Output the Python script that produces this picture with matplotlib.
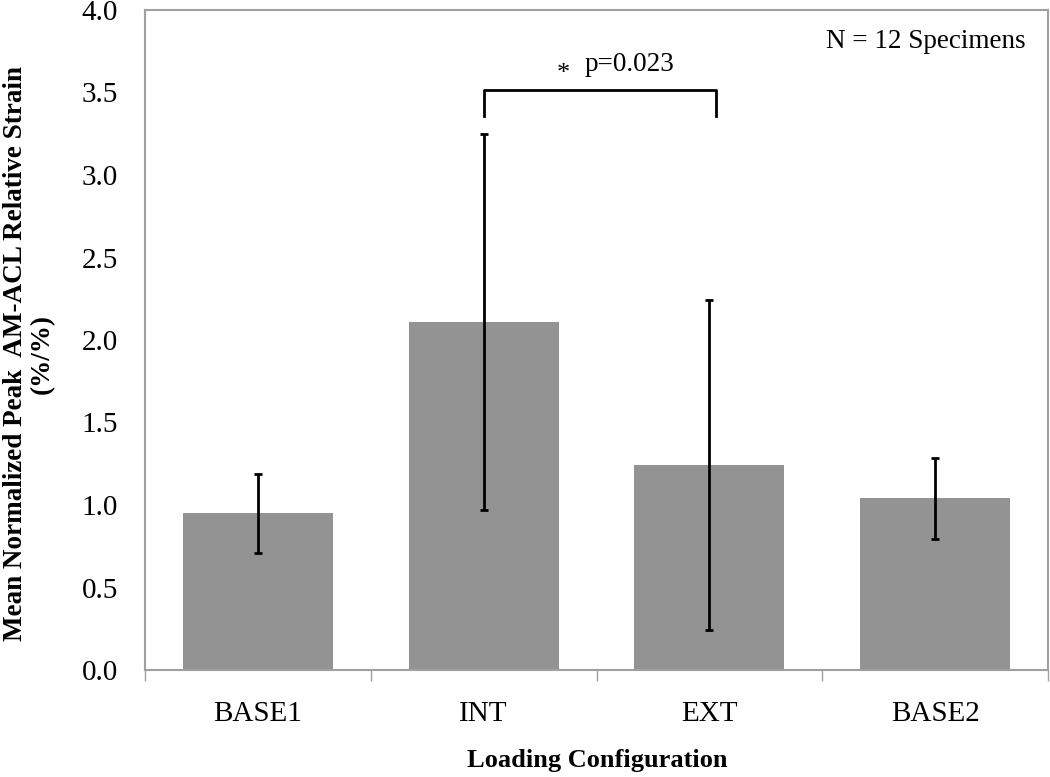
import matplotlib.pyplot as plt

# data
categories = ['BASE1', 'INT', 'EXT', 'BASE2']
means = [0.95, 2.11, 1.24, 1.04]
errors = [0.24, 1.14, 1.0, 0.245]

plt.rcParams['font.family'] = ['Liberation Serif', 'DejaVu Serif']

fig = plt.figure(figsize=(10.5, 7.77), dpi=100)
ax = fig.add_axes([145 / 1050, 1 - 670 / 777, 903 / 1050, 660 / 777])

x = range(len(categories))
ax.bar(x, means, width=0.665, color='#939393', zorder=2)
ax.errorbar(x, means, yerr=errors, fmt='none', ecolor='black',
            elinewidth=2, capsize=3, capthick=2, zorder=3)

ax.set_xlim(-0.5, 3.5)
ax.set_ylim(0, 4.0)
ax.set_yticks([0, 0.5, 1.0, 1.5, 2.0, 2.5, 3.0, 3.5, 4.0])
ax.set_yticklabels(['%.1f' % v for v in ax.get_yticks()])
ax.tick_params(axis='y', length=0, pad=19.5, labelsize=21)

ax.set_xticks(x)
ax.set_xticklabels(categories)
ax.set_xticks([-0.5, 0.5, 1.5, 2.5, 3.5], minor=True)
ax.tick_params(axis='x', which='major', length=0, pad=22, labelsize=21)
ax.tick_params(axis='x', which='minor', length=8, width=1, color='#a0a0a0')

for s in ax.spines.values():
    s.set_color('#a0a0a0')
    s.set_linewidth(1.5)

# significance bracket
ax.plot([1, 1, 2.03, 2.03], [3.36, 3.515, 3.515, 3.36], color='black', lw=2)
ax.text(1.352, 3.61, '*', fontsize=19, ha='center', va='center')
ax.text(1.449, 3.667, 'p=0.023', fontsize=19.5, ha='left', va='center')
ax.text(0.975, 0.953, 'N = 12 Specimens', transform=ax.transAxes,
        fontsize=19.5, ha='right', va='center')

fig.text(29 / 1050, 1 - 354 / 777,
         'Mean Normalized Peak  AM-ACL Relative Strain\n(%/%)',
         rotation=90, ha='center', va='center', multialignment='center',
         fontsize=19.5, fontweight='bold', linespacing=1.1)
fig.text(597 / 1050, 1 - 761 / 777, 'Loading Configuration',
         ha='center', va='center', fontsize=19, fontweight='bold')

fig.savefig('out.png', dpi=100)
